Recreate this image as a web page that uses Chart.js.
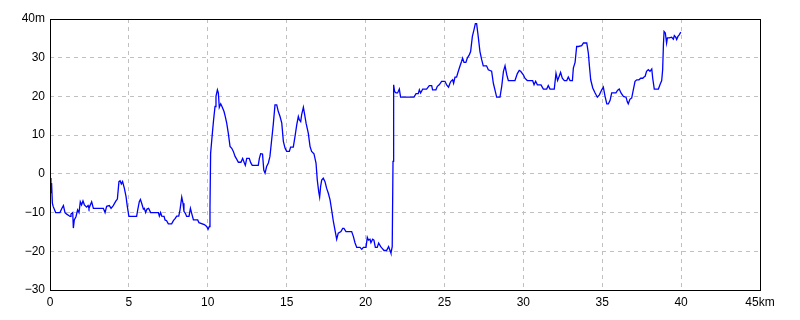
<!DOCTYPE html>
<html>
<head>
<meta charset="utf-8">
<script src="https://cdn.jsdelivr.net/npm/chart.js@4/dist/chart.umd.min.js"></script>
<style>
  html, body { margin: 0; padding: 0; background: #fff; }
  canvas { display: block; }
</style>
</head>
<body>
<canvas id="profile" width="800" height="320" style="width:800px;height:320px"></canvas>
<script>
// distance along the route (km) and elevation (m)
const distKm = [
  0, 0.06, 0.1, 0.15, 0.2, 0.36, 0.63, 0.74, 0.85, 0.95, 1.06, 1.27, 1.33, 1.44, 1.48, 1.54, 1.65, 1.75, 1.84, 1.92,
  2.0, 2.09, 2.18, 2.32, 2.41, 2.47, 2.64, 2.75, 3.17, 3.38, 3.49, 3.59, 3.76, 3.87, 4.01, 4.18, 4.27, 4.37, 4.44, 4.52,
  4.6, 4.71, 4.82, 4.9, 5.0, 5.49, 5.56, 5.66, 5.73, 5.81, 5.92, 5.98, 6.06, 6.15, 6.25, 6.38, 6.87, 6.93, 7.01, 7.08,
  7.23, 7.29, 7.39, 7.5, 7.71, 7.82, 7.94, 8.03, 8.16, 8.24, 8.35, 8.43, 8.49, 8.58, 8.66, 8.81, 8.9, 8.98, 9.09, 9.36,
  9.44, 9.78, 9.93, 10.02, 10.1, 10.14, 10.18, 10.29, 10.37, 10.46, 10.52, 10.61, 10.67, 10.73, 10.82, 10.92, 11.03, 11.11, 11.2, 11.3,
  11.41, 11.52, 11.62, 11.73, 11.83, 11.94, 12.1, 12.21, 12.32, 12.38, 12.47, 12.63, 12.72, 12.82, 13.2, 13.27, 13.35, 13.47, 13.55, 13.63,
  13.73, 13.84, 13.94, 14.05, 14.15, 14.26, 14.37, 14.47, 14.58, 14.69, 14.79, 14.9, 15.0, 15.17, 15.25, 15.42, 15.53, 15.64, 15.74, 15.8,
  15.89, 15.95, 16.06, 16.14, 16.23, 16.37, 16.48, 16.58, 16.73, 16.86, 16.94, 17.03, 17.09, 17.15, 17.22, 17.32, 17.43, 17.53, 17.64, 17.75,
  17.85, 17.96, 18.06, 18.17, 18.27, 18.44, 18.55, 18.63, 18.76, 19.12, 19.23, 19.33, 19.44, 19.65, 19.76, 19.86, 20.03, 20.11, 20.18, 20.28,
  20.34, 20.45, 20.53, 20.62, 20.74, 20.83, 20.96, 21.04, 21.17, 21.33, 21.46, 21.55, 21.61, 21.69, 21.74, 21.78, 21.84, 21.93, 22.03, 22.14,
  22.22, 23.07, 23.2, 23.34, 23.41, 23.49, 23.62, 23.87, 24.04, 24.19, 24.25, 24.46, 24.55, 24.67, 24.82, 25.03, 25.14, 25.26, 25.35, 25.41,
  25.52, 25.58, 25.67, 25.77, 25.84, 25.98, 26.09, 26.15, 26.24, 26.36, 26.45, 26.58, 26.66, 26.77, 26.87, 26.96, 27.04, 27.14, 27.25, 27.36,
  27.46, 27.67, 27.78, 27.99, 28.1, 28.2, 28.31, 28.52, 28.63, 28.74, 28.84, 28.95, 29.05, 29.47, 29.62, 29.74, 29.83, 30.0, 30.1, 30.25,
  30.59, 30.68, 30.78, 30.89, 31.12, 31.27, 31.48, 31.58, 31.69, 31.96, 32.07, 32.17, 32.28, 32.36, 32.47, 32.6, 32.75, 32.85, 32.96, 33.11,
  33.17, 33.28, 33.38, 33.49, 33.7, 33.81, 34.02, 34.12, 34.19, 34.27, 34.4, 34.55, 34.69, 34.82, 34.97, 35.07, 35.18, 35.29, 35.39, 35.5,
  35.6, 35.87, 35.98, 36.08, 36.19, 36.34, 36.51, 36.59, 36.65, 36.76, 36.87, 36.97, 37.08, 37.19, 37.33, 37.44, 37.57, 37.65, 37.72, 37.81,
  37.92, 38.03, 38.14, 38.2, 38.3, 38.56, 38.66, 38.77, 38.83, 38.88, 38.92, 39.0, 39.08, 39.13, 39.25, 39.4, 39.51, 39.57, 39.66, 39.72,
  39.8, 39.88, 39.98
];
const elevM = [
  -1.1, -5, -2.4, -7.6, -8.4, -10, -10, -9, -8.2, -10, -10.4, -11, -10.4, -10, -14, -11.9, -11, -9.3, -10, -7.2,
  -8, -7, -8, -8.6, -8.2, -8.9, -7.2, -8.9, -8.9, -8.9, -10, -8.4, -8.2, -8.9, -8.2, -7, -6.5, -2, -1.8, -2.6,
  -2, -3.7, -5.9, -8.4, -11, -11, -9.3, -7.2, -6.6, -7.6, -9.1, -8.9, -10, -9.1, -8.9, -10, -10, -10.9, -10, -10.9,
  -11, -11.9, -12.1, -12.9, -12.9, -12.1, -11.5, -10.9, -10.9, -9.3, -6, -7.6, -9.7, -10.2, -11, -11, -8.9, -10.2, -11.9, -11.9,
  -12.6, -13.1, -13.6, -14.3, -13.6, -8.9, 5.3, 10.5, 14, 17.4, 20, 21.7, 20.9, 17.2, 18.1, 17.2, 16.1, 14.8, 13.1, 10.5,
  7.1, 6.6, 5.8, 4.5, 3.8, 3, 3, 4, 2.8, 2.2, 4, 4, 2.9, 2.2, 2.2, 4, 5.2, 5.1, 1, 0.2,
  1.9, 2.8, 4.5, 8.8, 12.7, 17.8, 17.8, 16.1, 14.8, 13.1, 8.4, 6.6, 5.8, 5.8, 6.9, 6.9, 9.7, 12.7, 14.8, 14,
  13.5, 15.3, 17.2, 15.3, 13.1, 10.5, 7.1, 5.8, 5.2, 2.8, -1.6, -4.6, -6, -3.3, -1.6, -1.1, -2, -3.7, -5, -6.7,
  -9.3, -12.3, -14.5, -16.9, -15.3, -14.9, -14.1, -14.1, -14.9, -14.9, -16.2, -17.8, -19, -19, -19.5, -19, -19, -16.4, -17.1, -16.9,
  -17.8, -16.9, -17.1, -19, -19, -17.9, -18.8, -19.2, -19.8, -19.8, -18.8, -19.8, -20.5, -18.8, 3.2, 23, 21.3, 20.9, 20.9, 21.9,
  19.8, 19.8, 20.7, 20.7, 21.7, 20.9, 21.9, 21.9, 22.8, 22.8, 21.7, 21.7, 22.6, 23, 23.9, 23.9, 23, 22.4, 23.4, 23.9,
  24.3, 23.4, 25, 25, 26, 27.8, 29.1, 29.9, 28.8, 28.8, 29.9, 30.8, 31.6, 35.5, 37.2, 38.8, 38.8, 35.5, 31.6, 29.5,
  27.9, 27.9, 26.9, 26.5, 23.4, 21.7, 19.8, 19.8, 22.6, 26.5, 27.9, 25.6, 24.1, 24.1, 25.9, 26.7, 26.5, 25.6, 24.7, 24.1,
  24.1, 23, 23.9, 23, 23, 21.9, 21.9, 22.8, 21.9, 21.9, 26, 24.1, 25.3, 26.2, 24.7, 24.1, 24.1, 25, 24.1, 24.1,
  27.3, 28.8, 32.9, 32.9, 33.1, 33.8, 33.8, 31.2, 27.8, 24.3, 22.2, 20.9, 19.8, 20.4, 21.7, 22.4, 20, 18.1, 18.1, 19,
  20.9, 20.9, 21.6, 21.9, 20.9, 20, 19.8, 18.6, 18.1, 19.3, 19.6, 21.7, 23.9, 24.3, 24.3, 24.7, 24.7, 25, 25.2, 26.5,
  26.9, 26.5, 27.1, 24.7, 21.9, 21.9, 23, 24.1, 26.9, 33.4, 36.8, 36.4, 33.8, 35.1, 35.1, 35.3, 34.8, 35.7, 35.3, 34.7,
  35.5, 35.9, 36.6
];

// axis ticks
const xTickValues = [0, 5, 10, 15, 20, 25, 30, 35, 40, 45];
const xTickLabels = ['0', '5', '10', '15', '20', '25', '30', '35', '40', '45km'];
const yTickValues = [-30, -20, -10, 0, 10, 20, 30, 40];
const yTickLabels = ['\u221230', '\u221220', '\u221210', '0', '10', '20', '30', '40m'];

const points = distKm.map((d, i) => ({ x: d, y: elevM[i] }));

// black frame round the plot area
const frame = {
  id: 'frame',
  afterDraw(chart) {
    const { ctx, chartArea: a } = chart;
    ctx.save();
    ctx.strokeStyle = '#000';
    ctx.lineWidth = 1;
    ctx.strokeRect(a.left + 0.5, a.top + 0.5, a.right - a.left, a.bottom - a.top);
    ctx.restore();
  }
};

const white = {
  id: 'white',
  beforeDraw(chart) {
    const ctx = chart.ctx;
    ctx.save();
    ctx.fillStyle = '#fff';
    ctx.fillRect(0, 0, chart.width, chart.height);
    ctx.restore();
  }
};

Chart.defaults.font.family = "'Liberation Sans', Arial, sans-serif";
Chart.defaults.font.size = 12;
Chart.defaults.color = '#000';

new Chart(document.getElementById('profile'), {
  type: 'line',
  data: {
    datasets: [{
      data: points,
      borderColor: '#0000ff',
      borderWidth: 1.3,
      pointRadius: 0,
      tension: 0,
      fill: false
    }]
  },
  options: {
    responsive: false,
    animation: false,
    devicePixelRatio: 1,
    layout: { padding: { top: 19, right: 40, left: 0, bottom: 0 } },
    plugins: {
      legend: { display: false },
      tooltip: { enabled: false }
    },
    scales: {
      x: {
        type: 'linear',
        min: 0,
        max: 45,
        afterFit: s => { s.height = 30; },
        afterBuildTicks: s => { s.ticks = xTickValues.map(v => ({ value: v })); },
        ticks: {
          padding: 5,
          maxRotation: 0,
          autoSkip: false,
          callback: v => xTickLabels[xTickValues.indexOf(v)]
        },
        grid: { color: '#c0c0c0', drawTicks: false },
        border: { display: false, dash: [4, 4] }
      },
      y: {
        min: -30,
        max: 40,
        afterFit: s => { s.width = 50; },
        afterBuildTicks: s => { s.ticks = yTickValues.map(v => ({ value: v })); },
        ticks: {
          padding: 5,
          autoSkip: false,
          callback: v => yTickLabels[yTickValues.indexOf(v)]
        },
        grid: { color: '#c0c0c0', drawTicks: false },
        border: { display: false, dash: [4, 4] }
      }
    }
  },
  plugins: [white, frame]
});
</script>
</body>
</html>
